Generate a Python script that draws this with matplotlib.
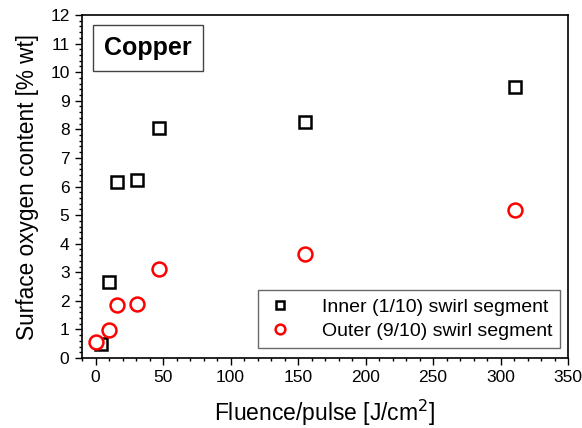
import matplotlib
matplotlib.use("Agg")
import matplotlib.pyplot as plt
from matplotlib.ticker import MultipleLocator

plt.rcParams['font.family'] = ['Liberation Sans', 'DejaVu Sans']

# data
inner_x = [4, 10, 16, 31, 47, 155, 311]
inner_y = [0.5, 2.65, 6.15, 6.23, 8.05, 8.25, 9.47]
outer_x = [0, 10, 16, 31, 47, 155, 311]
outer_y = [0.55, 0.97, 1.87, 1.9, 3.13, 3.65, 5.17]

fig = plt.figure(figsize=(5.82, 4.28), dpi=100)
ax = fig.add_axes([82 / 582, 1 - 358 / 428, (568 - 82) / 582, (358 - 15) / 428])

ax.plot(inner_x, inner_y, 's', ms=8, mfc='white', mec='black', mew=1.8,
        label='Inner (1/10) swirl segment', ls='none')
ax.plot(outer_x, outer_y, 'o', ms=10, mfc='white', mec='red', mew=1.8,
        label='Outer (9/10) swirl segment', ls='none')

ax.set_xlim(-10, 350)
ax.set_ylim(0, 12)
ax.xaxis.set_major_locator(MultipleLocator(50))
ax.xaxis.set_minor_locator(MultipleLocator(10))
ax.yaxis.set_major_locator(MultipleLocator(1))
ax.yaxis.set_minor_locator(MultipleLocator(0.2))
ax.tick_params(which='both', direction='out', top=False, right=False,
               labelsize=12.5, width=1)
ax.tick_params(which='major', length=5, pad=4)
ax.tick_params(which='minor', length=2.5)
for s in ax.spines.values():
    s.set_linewidth(1.2)

ax.set_xlabel('Fluence/pulse [J/cm$^2$]', fontsize=16.5, labelpad=9)
ax.set_ylabel('Surface oxygen content [% wt]', fontsize=16.3, labelpad=8)

ax.text(0.045, 0.904, 'Copper', transform=ax.transAxes, fontsize=18,
        fontweight='bold', va='center', ha='left',
        bbox=dict(boxstyle='square,pad=0.45', fc='white', ec='#444444', lw=1))

leg = ax.legend(loc='lower right', bbox_to_anchor=(0.9835, 0.029), fontsize=14,
                frameon=True, fancybox=False, edgecolor='#444444',
                handlelength=1.5, markerscale=0.7, borderpad=0.4,
                labelspacing=0.35, handletextpad=1.4, borderaxespad=0)
leg.get_frame().set_linewidth(1)

fig.savefig('out.png', dpi=100)
